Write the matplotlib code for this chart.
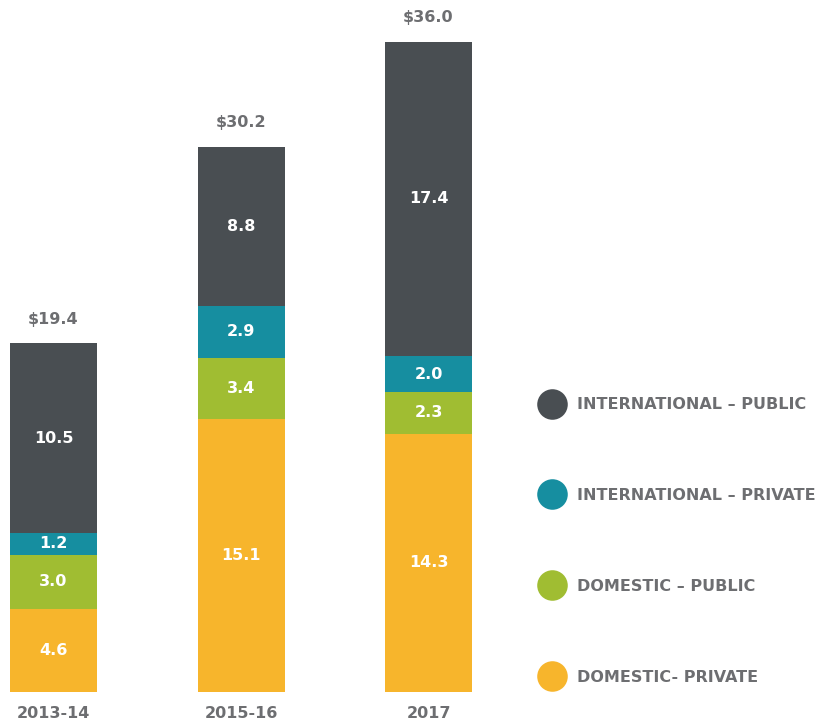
import matplotlib
matplotlib.use("Agg")
import matplotlib.pyplot as plt
from matplotlib.lines import Line2D
import numpy as np

# data
years = ["2013-14", "2015-16", "2017"]
domestic_private = [4.6, 15.1, 14.3]
domestic_public = [3.0, 3.4, 2.3]
intl_private = [1.2, 2.9, 2.0]
intl_public = [10.5, 8.8, 17.4]
totals = ["$19.4", "$30.2", "$36.0"]

series = [
    ("DOMESTIC- PRIVATE", domestic_private, "#f7b52c"),
    ("DOMESTIC \u2013 PUBLIC", domestic_public, "#a0bd32"),
    ("INTERNATIONAL \u2013 PRIVATE", intl_private, "#168ea0"),
    ("INTERNATIONAL \u2013 PUBLIC", intl_public, "#494e52"),
]
gray = "#6d6e71"

plt.rcParams['font.family'] = ['DejaVu Sans']

fig = plt.figure(figsize=(8.24, 7.22), dpi=100)
ax = fig.add_axes([0, 30 / 722, 1, 692 / 722])

x = np.arange(len(years))
bottom = np.zeros(len(years))
for name, vals, color in series:
    vals = np.array(vals)
    ax.bar(x, vals, bottom=bottom, width=0.464, color=color, linewidth=0)
    for xi, b, v in zip(x, bottom, vals):
        ax.text(xi, b + v / 2, f"{v:.1f}", ha="center", va="center",
                color="white", fontsize=11.5, fontweight="bold")
    bottom = bottom + vals

for xi, top, lab in zip(x, bottom, totals):
    ax.annotate(lab, (xi, top), xytext=(0, 24), textcoords="offset pixels",
                ha="center", va="center", color=gray, fontsize=11.5, fontweight="bold")
for xi, lab in zip(x, years):
    ax.annotate(lab, (xi, 0), xytext=(0, -22), textcoords="offset pixels",
                ha="center", va="center", color=gray, fontsize=11.5, fontweight="bold")

ax.set_xlim(-53.5 / 187.5, (824 - 53.5) / 187.5)
ax.set_ylim(0, 692 / 18.06)
ax.axis("off")

handles = [Line2D([], [], marker="o", linestyle="none", markersize=22,
                  markerfacecolor=c, markeredgewidth=0, label=n)
           for n, v, c in series[::-1]]
leg = fig.legend(handles=handles, loc="center left",
                 bbox_to_anchor=(540 / 824, (722 - 541) / 722),
                 frameon=False, labelspacing=4.75, handletextpad=0.84,
                 handlelength=1.5, borderpad=0, borderaxespad=0,
                 prop={"size": 11.5, "weight": "bold"})
for t in leg.get_texts():
    t.set_color(gray)

fig.savefig("out.png", dpi=100, facecolor="white")
